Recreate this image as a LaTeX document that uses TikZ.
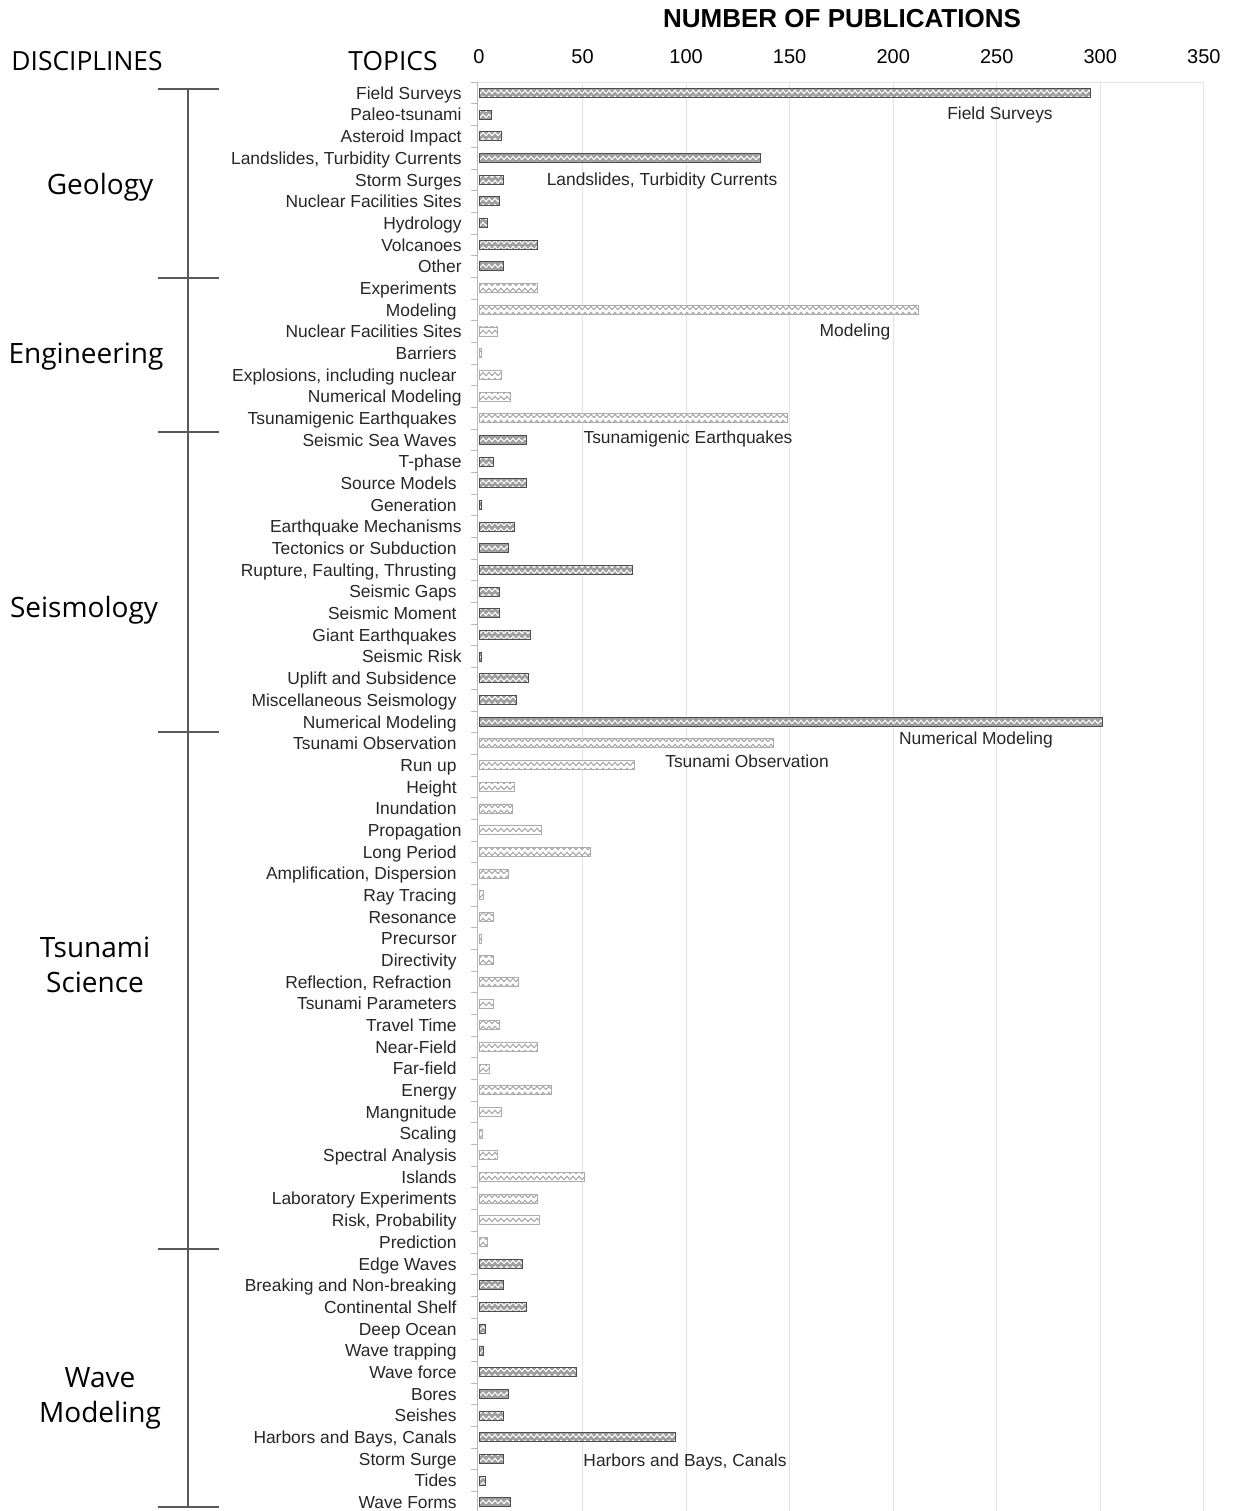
\documentclass[tikz,border=0pt]{standalone}
\usepackage{fontspec}
\setmainfont{Liberation Sans}
\newfontfamily\discfont{Open Sans}
\usetikzlibrary{patterns, positioning}

\pgfdeclarepatternformonly{zigzag}{\pgfqpoint{-0.5pt}{-0.5pt}}{\pgfqpoint{3.5pt}{3.5pt}}{\pgfqpoint{3pt}{3pt}}{%
  \pgfsetlinewidth{0.5pt}
  \pgfpathmoveto{\pgfqpoint{0pt}{0.6pt}}
  \pgfpathlineto{\pgfqpoint{1.5pt}{2.4pt}}
  \pgfpathlineto{\pgfqpoint{3pt}{0.6pt}}
  \pgfusepath{stroke}}

\tikzset{
  topic/.style={font=\fontsize{8.7}{9}\selectfont, text=black!85, inner sep=0pt, anchor=mid east},
  note/.style={font=\fontsize{8.7}{9}\selectfont, text=black!85, inner sep=0pt},
  disc/.style={font=\discfont\fontsize{14}{17.5}\selectfont, align=center, inner sep=0pt},
  head/.style={font=\discfont\fontsize{13.2}{15}\selectfont, inner sep=0pt},
  ticklab/.style={font=\fontsize{10}{12}\selectfont, inner sep=0pt},
  darkbar/.style={preaction={fill=gray!75}, pattern=zigzag, pattern color=white, draw=black!70, line width=0.45pt},
  lightbar/.style={preaction={fill=white}, pattern=zigzag, pattern color=gray!70, draw=gray!65, line width=0.45pt},
  grid/.style={draw=gray!22, line width=0.5pt},
  sep/.style={draw=black!65, line width=0.8pt}
}

\begin{document}
\begin{tikzpicture}[x=0.5pt, y=-0.5pt]
\useasboundingbox (0,0) rectangle (1235,1511);

% frame and grid
\foreach \k in {1,...,7}
  \draw[grid] ({479+103.55*\k},82) -- ({479+103.55*\k},1511);
\draw[grid] (477,82) -- (1204,82);
\draw[draw=gray!55] (477,82) -- (477,1511);
\foreach \k in {0,...,65}
  \draw[draw=gray!55] (471,{82.2+21.68*\k}) -- (477,{82.2+21.68*\k});

% axis
\node[font=\bfseries\fontsize{13}{15}\selectfont, inner sep=0pt] (title) at (842,19) {NUMBER OF PUBLICATIONS};
\foreach \v [count=\k from 0] in {0,50,...,350}
  \node[ticklab] (tick\k) at ({479+103.55*\k},57) {\v};
\node[head] (disciplines) at (87,61) {DISCIPLINES};
\node[head] (topics) at (393,61) {TOPICS};

% Geology
\foreach \t/\v/\dx [count=\k from 0] in {Field Surveys/295/5, Paleo-tsunami/6/5, Asteroid Impact/11/5,
  {Landslides, Turbidity Currents}/136/5, Storm Surges/12/5, Nuclear Facilities Sites/10/5,
  Hydrology/4/5, Volcanoes/28/5, Other/12/5}{
  \pgfmathsetmacro{\y}{93+21.68*\k}
  \node[topic] (geo\k) at ({457+\dx},\y+1) {\t};
  \path[darkbar] (479,\y-4.5) rectangle ({479+2.071*\v},\y+4.5);
}

% Engineering
\foreach \t/\v/\dx [count=\k from 9] in {Experiments/28/0, Modeling/212/0, Nuclear Facilities Sites/9/5,
  Barriers/1/0, {Explosions, including nuclear}/11/0, Numerical Modeling/15/5,
  Tsunamigenic Earthquakes/149/0}{
  \pgfmathsetmacro{\y}{93+21.68*\k}
  \node[topic] (eng\k) at ({457+\dx},\y+1) {\t};
  \path[lightbar] (479,\y-4.5) rectangle ({479+2.071*\v},\y+4.5);
}

% Seismology
\foreach \t/\v/\dx [count=\k from 16] in {Seismic Sea Waves/23/0, T-phase/7/5, Source Models/23/0,
  Generation/1/0, Earthquake Mechanisms/17/5, Tectonics or Subduction/14/0,
  {Rupture, Faulting, Thrusting}/74/0, Seismic Gaps/10/0, Seismic Moment/10/0,
  Giant Earthquakes/25/0, Seismic Risk/1/5, Uplift and Subsidence/24/0,
  Miscellaneous Seismology/18/0, Numerical Modeling/301/0}{
  \pgfmathsetmacro{\y}{93+21.68*\k}
  \node[topic] (seis\k) at ({457+\dx},\y+1) {\t};
  \path[darkbar] (479,\y-4.5) rectangle ({479+2.071*\v},\y+4.5);
}

% Tsunami Science
\foreach \t/\v/\dx [count=\k from 30] in {Tsunami Observation/142/0, Run up/75/0, Height/17/0,
  Inundation/16/0, Propagation/30/5, Long Period/54/0, {Amplification, Dispersion}/14/0,
  Ray Tracing/2/0, Resonance/7/0, Precursor/1/0, Directivity/7/0,
  {Reflection, Refraction}/19/-5, Tsunami Parameters/7/0, Travel Time/10/0,
  Near-Field/28/0, Far-field/5/0, Energy/35/0, Mangnitude/11/0, Scaling/1.5/0,
  Spectral Analysis/9/0, Islands/51/0, Laboratory Experiments/28/0,
  {Risk, Probability}/29/0, Prediction/4/0}{
  \pgfmathsetmacro{\y}{93+21.68*\k}
  \node[topic] (tsu\k) at ({457+\dx},\y+1) {\t};
  \path[lightbar] (479,\y-4.5) rectangle ({479+2.071*\v},\y+4.5);
}

% Wave Modeling
\foreach \t/\v/\dx [count=\k from 54] in {Edge Waves/21/0, Breaking and Non-breaking/12/0,
  Continental Shelf/23/0, Deep Ocean/3/0, Wave trapping/2/0, Wave force/47/0,
  Bores/14/0, Seishes/12/0, {Harbors and Bays, Canals}/95/0, Storm Surge/12/0,
  Tides/3/0, Wave Forms/15/0}{
  \pgfmathsetmacro{\y}{93+21.68*\k}
  \node[topic] (wave\k) at ({457+\dx},\y+1) {\t};
  \path[darkbar] (479,\y-4.5) rectangle ({479+2.071*\v},\y+4.5);
}

% labels of the largest bars
\node[note] (nfield) at (1000,115) {Field Surveys};
\node[note] (nland) at (662,181) {Landslides, Turbidity Currents};
\node[note] (nmodel) at (855,332) {Modeling};
\node[note] (ntsueq) at (688,439) {Tsunamigenic Earthquakes};
\node[note] (nnum) at (976,740) {Numerical Modeling};
\node[note] (nobs) at (747,761) {Tsunami Observation};
\node[note] (nharb) at (685,1462) {Harbors and Bays, Canals};

% disciplines
\draw[sep] (188,89) -- (188,1507);
\foreach \y in {89,278,432,732,1249,1507}
  \draw[sep] (158,\y) -- (219,\y);
\node[disc] (geology) at (100,187) {Geology};
\node[disc] (engineering) at (86,357) {Engineering};
\node[disc] (seismology) at (84,610) {Seismology};
\node[disc] (tsunami) at (95,965) {Tsunami\\Science};
\node[disc] (wavemod) at (100,1398) {Wave\\Modeling};

\end{tikzpicture}
\end{document}
